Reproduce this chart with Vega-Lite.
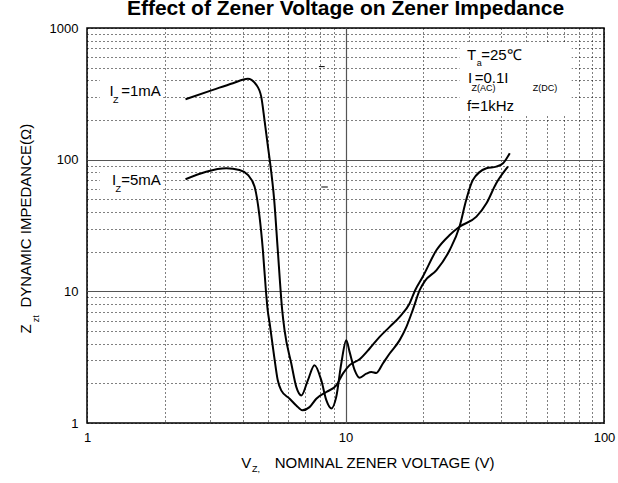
{
  "$schema": "https://vega.github.io/schema/vega-lite/v6.json",
  "autosize": {"type": "none"},
  "width": 517,
  "height": 395,
  "padding": {"left": 87, "top": 28, "right": 14, "bottom": 60},
  "background": "white",
  "title": {"text": "Effect of Zener Voltage on Zener Impedance", "font": "Liberation Sans", "fontSize": 21, "fontWeight": "bold", "color": "black", "anchor": "middle", "frame": "group", "baseline": "alphabetic", "offset": -14},
  "config": {"view": {"stroke": "black", "strokeWidth": 1.5}, "font": "Liberation Sans"},
  "datasets": {
    "curves": [
      {"series": "1mA", "x": 2.405, "y": 288}, {"series": "1mA", "x": 3.07, "y": 339}, {"series": "1mA", "x": 3.67, "y": 381}, {"series": "1mA", "x": 4.19, "y": 411}, {"series": "1mA", "x": 4.52, "y": 370}, {"series": "1mA", "x": 4.72, "y": 301}, {"series": "1mA", "x": 4.86, "y": 200}, {"series": "1mA", "x": 5.01, "y": 126}, {"series": "1mA", "x": 5.09, "y": 100}, {"series": "1mA", "x": 5.3, "y": 49}, {"series": "1mA", "x": 5.47, "y": 20.6}, {"series": "1mA", "x": 5.69, "y": 7.2}, {"series": "1mA", "x": 5.81, "y": 5.07}, {"series": "1mA", "x": 6.17, "y": 2.83}, {"series": "1mA", "x": 6.45, "y": 1.88}, {"series": "1mA", "x": 6.75, "y": 1.62}, {"series": "1mA", "x": 7.15, "y": 2.11}, {"series": "1mA", "x": 7.59, "y": 2.75}, {"series": "1mA", "x": 8.06, "y": 2.11}, {"series": "1mA", "x": 8.43, "y": 1.49}, {"series": "1mA", "x": 8.81, "y": 1.29}, {"series": "1mA", "x": 9.21, "y": 1.58}, {"series": "1mA", "x": 9.63, "y": 2.83}, {"series": "1mA", "x": 10.07, "y": 4.26}, {"series": "1mA", "x": 10.37, "y": 3.47}, {"series": "1mA", "x": 10.85, "y": 2.52}, {"series": "1mA", "x": 11.34, "y": 2.21}, {"series": "1mA", "x": 12.04, "y": 2.37}, {"series": "1mA", "x": 12.59, "y": 2.44}, {"series": "1mA", "x": 13.16, "y": 2.4}, {"series": "1mA", "x": 13.95, "y": 2.83}, {"series": "1mA", "x": 14.82, "y": 3.37}, {"series": "1mA", "x": 16.2, "y": 4.26}, {"series": "1mA", "x": 17.2, "y": 5.37}, {"series": "1mA", "x": 18.2, "y": 7.2}, {"series": "1mA", "x": 19.36, "y": 10.2}, {"series": "1mA", "x": 20.3, "y": 12.0}, {"series": "1mA", "x": 22.5, "y": 14.5}, {"series": "1mA", "x": 25.3, "y": 20.6}, {"series": "1mA", "x": 27.6, "y": 30.9}, {"series": "1mA", "x": 29.3, "y": 49.4}, {"series": "1mA", "x": 31.1, "y": 70}, {"series": "1mA", "x": 35.1, "y": 86}, {"series": "1mA", "x": 38.3, "y": 88.5}, {"series": "1mA", "x": 40.7, "y": 93.9}, {"series": "1mA", "x": 43.2, "y": 112},
      {"series": "5mA", "x": 2.405, "y": 71}, {"series": "5mA", "x": 2.89, "y": 81}, {"series": "5mA", "x": 3.46, "y": 86}, {"series": "5mA", "x": 3.89, "y": 83.5}, {"series": "5mA", "x": 4.19, "y": 76.5}, {"series": "5mA", "x": 4.45, "y": 62.3}, {"series": "5mA", "x": 4.65, "y": 36.9}, {"series": "5mA", "x": 4.79, "y": 20.6}, {"series": "5mA", "x": 4.92, "y": 10.2}, {"series": "5mA", "x": 5.0, "y": 7.2}, {"series": "5mA", "x": 5.09, "y": 5.7}, {"series": "5mA", "x": 5.3, "y": 3.18}, {"series": "5mA", "x": 5.47, "y": 2.11}, {"series": "5mA", "x": 5.64, "y": 1.77}, {"series": "5mA", "x": 6.08, "y": 1.53}, {"series": "5mA", "x": 6.45, "y": 1.36}, {"series": "5mA", "x": 6.81, "y": 1.25}, {"series": "5mA", "x": 7.26, "y": 1.32}, {"series": "5mA", "x": 7.71, "y": 1.53}, {"series": "5mA", "x": 8.43, "y": 1.72}, {"series": "5mA", "x": 9.21, "y": 1.93}, {"series": "5mA", "x": 9.77, "y": 2.37}, {"series": "5mA", "x": 10.37, "y": 2.75}, {"series": "5mA", "x": 11.34, "y": 3.05}, {"series": "5mA", "x": 12.4, "y": 3.68}, {"series": "5mA", "x": 13.55, "y": 4.51}, {"series": "5mA", "x": 14.82, "y": 5.37}, {"series": "5mA", "x": 16.2, "y": 6.4}, {"series": "5mA", "x": 17.7, "y": 8.09}, {"series": "5mA", "x": 18.6, "y": 10.2}, {"series": "5mA", "x": 19.9, "y": 12.9}, {"series": "5mA", "x": 22.5, "y": 20.6}, {"series": "5mA", "x": 25.3, "y": 26.8}, {"series": "5mA", "x": 27.6, "y": 30.9}, {"series": "5mA", "x": 32.1, "y": 36.9}, {"series": "5mA", "x": 35.1, "y": 46.6}, {"series": "5mA", "x": 38.3, "y": 66.2}, {"series": "5mA", "x": 42.5, "y": 88.5}
    ],
    "boxes": [
      {"x": 27.6, "x2": 75, "y": 215, "y2": 770},
      {"x": 1.12, "x2": 1.97, "y": 230, "y2": 460},
      {"x": 1.12, "x2": 1.97, "y": 53, "y2": 86}
    ],
    "dashes": [
      {"x": 7.89, "x2": 8.31, "y": 509},
      {"x": 8.06, "x2": 8.54, "y": 62}
    ],
    "labels": [
      {"role": "main", "text": "I", "x": 1.222, "y": 302},
      {"role": "main", "text": "=1mA", "x": 1.356, "y": 302},
      {"role": "main", "text": "I", "x": 1.249, "y": 64.2},
      {"role": "main", "text": "=5mA", "x": 1.356, "y": 64.2},
      {"role": "main", "text": "T", "x": 29.5, "y": 573},
      {"role": "main", "text": "=25℃", "x": 33.5, "y": 573},
      {"role": "main", "text": "I", "x": 29.8, "y": 381},
      {"role": "main", "text": "=0.1I", "x": 31.6, "y": 381},
      {"role": "main", "text": "f=1kHz", "x": 29.5, "y": 234.5},
      {"role": "main", "text": "V", "x": 3.953, "y": 0.458},
      {"role": "main", "text": "NOMINAL ZENER VOLTAGE (V)", "x": 5.32, "y": 0.458},
      {"role": "sub", "text": "Z", "x": 1.26, "y": 270},
      {"role": "sub", "text": "Z", "x": 1.289, "y": 57.3},
      {"role": "sub", "text": "a", "x": 32.2, "y": 511},
      {"role": "sub", "text": "Z(AC)", "x": 30.7, "y": 330},
      {"role": "sub", "text": "Z(DC)", "x": 53.0, "y": 330},
      {"role": "sub", "text": "Z,", "x": 4.35, "y": 0.4256},
      {"role": "ymain", "text": "Z", "x": 0.608, "y": 4.79},
      {"role": "ymain", "text": "DYNAMIC IMPEDANCE(Ω)", "x": 0.608, "y": 7.54},
      {"role": "ysub", "text": "zt", "x": 0.655, "y": 5.83}
    ]
  },
  "encoding": {
    "x": {"field": "x", "type": "quantitative",
      "scale": {"type": "log", "domain": [1, 100], "nice": false},
      "axis": {"values": [1,2,3,4,5,6,7,8,9,10,20,30,40,50,60,70,80,90,100], "grid": true,
        "gridDash": {"condition": {"test": "datum.value == 10", "value": []}, "value": [1, 3]},
        "gridColor": {"condition": {"test": "datum.value == 10", "value": "#555555"}, "value": "#000000"},
        "gridWidth": {"condition": {"test": "datum.value == 10", "value": 1.2}, "value": 1},
        "gridOpacity": 1,
        "ticks": false, "domain": false, "title": null,
        "labelExpr": "indexof([1,10,100], datum.value) >= 0 ? '' + datum.value : ''",
        "labelFont": "Liberation Sans", "labelFontSize": 13, "labelColor": "black", "labelPadding": 8, "labelOverlap": false, "labelFlush": false}},
    "y": {"field": "y", "type": "quantitative",
      "scale": {"type": "log", "domain": [1, 1000], "nice": false},
      "axis": {"values": [1,2,3,4,5,6,7,8,9,10,20,30,40,50,60,70,80,90,100,200,300,400,500,600,700,800,900,1000], "grid": true,
        "gridDash": {"condition": {"test": "datum.value == 10 || datum.value == 100", "value": []}, "value": [1, 3]},
        "gridColor": {"condition": {"test": "datum.value == 10 || datum.value == 100", "value": "#555555"}, "value": "#000000"},
        "gridWidth": {"condition": {"test": "datum.value == 10 || datum.value == 100", "value": 1.2}, "value": 1},
        "gridOpacity": 1,
        "ticks": false, "domain": false, "title": null,
        "labelExpr": "indexof([1,10,100,1000], datum.value) >= 0 ? '' + datum.value : ''",
        "labelFont": "Liberation Sans", "labelFontSize": 13, "labelColor": "black", "labelPadding": 9, "labelOverlap": false, "labelFlush": false}}
  },
  "layer": [
    {"data": {"name": "boxes"}, "mark": {"type": "rect", "fill": "white", "stroke": null},
     "encoding": {"x2": {"field": "x2"}, "y2": {"field": "y2"}}},
    {"data": {"name": "curves"}, "mark": {"type": "line", "color": "black", "strokeWidth": 2, "interpolate": "monotone"},
     "encoding": {"detail": {"field": "series"}}},
    {"data": {"name": "dashes"}, "mark": {"type": "rule", "color": "black", "strokeWidth": 1},
     "encoding": {"x2": {"field": "x2"}}},
    {"data": {"name": "labels"}, "transform": [{"filter": "datum.role == 'main'"}],
     "mark": {"type": "text", "align": "left", "baseline": "alphabetic", "fontSize": 15, "font": "Liberation Sans", "color": "black"},
     "encoding": {"text": {"field": "text"}}},
    {"data": {"name": "labels"}, "transform": [{"filter": "datum.role == 'sub'"}],
     "mark": {"type": "text", "align": "left", "baseline": "alphabetic", "fontSize": 9, "font": "Liberation Sans", "color": "black"},
     "encoding": {"text": {"field": "text"}}},
    {"data": {"name": "labels"}, "transform": [{"filter": "datum.role == 'ymain'"}],
     "mark": {"type": "text", "align": "left", "baseline": "alphabetic", "angle": 270, "fontSize": 15, "font": "Liberation Sans", "color": "black"},
     "encoding": {"text": {"field": "text"}}},
    {"data": {"name": "labels"}, "transform": [{"filter": "datum.role == 'ysub'"}],
     "mark": {"type": "text", "align": "left", "baseline": "alphabetic", "angle": 270, "fontSize": 9, "font": "Liberation Sans", "color": "black"},
     "encoding": {"text": {"field": "text"}}}
  ]
}
